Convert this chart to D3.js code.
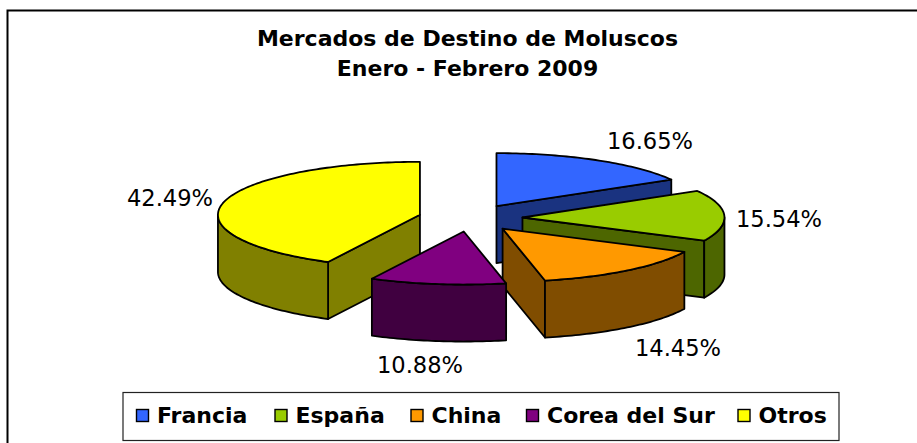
<!DOCTYPE html>
<html><head><meta charset="utf-8">
<script src="https://cdn.jsdelivr.net/npm/d3@7/dist/d3.min.js"></script>
<style>html,body{margin:0;padding:0;background:#fff}svg{display:block}text{font-family:"DejaVu Sans",Verdana,sans-serif;fill:#000}</style>
</head><body><svg id="c" width="917" height="443"></svg>
<script>
const categories = ["Francia","España","China","Corea del Sur","Otros"];
const values = [16.65,15.54,14.45,10.88,42.49];
const topColors = ["#3366FF","#99CC00","#FF9900","#800080","#FFFF00"];
const sideColors = ["#1A3380","#4D6600","#804D00","#400040","#808000"];
const labelSpots = [[650,141],[779,219],[678,348],[420,365],[170,198]];
const titleLines = ["Mercados de Destino de Moluscos","Enero - Febrero 2009"];
const drawOrder = [0,1,2,4,3];
const legendStart = [136,274.5,410.5,526,737.5];

const svg = d3.select("#c");
svg.append("path").attr("d","M7.5,443V10.5H917").attr("fill","none").attr("stroke","#000").attr("stroke-width",2);
svg.selectAll(".t").data(titleLines).join("text").attr("class","t").attr("x",467.5).attr("y",(d,i)=>46+i*30)
  .attr("text-anchor","middle").attr("font-weight","bold").attr("font-size",22).text(d=>d);

const cx=470.5, cy=218, rx=202, ry=53, depth=57, ex=52;
const arcs = d3.pie().sort(null)(values);
const px = (c,a)=>[c[0]+rx*Math.sin(a), c[1]-ry*Math.cos(a)];
function arcPts(c,a0,a1,dy=0){
  const n=Math.max(2,Math.ceil((a1-a0)/0.02)); const pts=[];
  d3.range(n+1).forEach(i=>{const a=a0+(a1-a0)*i/n; const p=px(c,a); pts.push([p[0],p[1]+dy]);});
  return pts;
}
const line=d3.line();
const PI=Math.PI;
drawOrder.forEach(i=>{
  const s=arcs[i], a0=s.startAngle, a1=s.endAngle, mid=(a0+a1)/2;
  const c=[cx+ex*Math.sin(mid), cy-ex*(ry/rx)*Math.cos(mid)];
  const g=svg.append("g");
  const wall=pts=>g.append("path").attr("d",line(pts)+"Z").attr("fill",sideColors[i]).attr("stroke","#000").attr("stroke-width",1.8).attr("stroke-linejoin","round");
  if(Math.sin(a0)<-1e-6){const p=px(c,a0); wall([c,p,[p[0],p[1]+depth],[c[0],c[1]+depth]]);}
  if(Math.sin(a1)>1e-6){const p=px(c,a1); wall([c,p,[p[0],p[1]+depth],[c[0],c[1]+depth]]);}
  const f0=Math.max(a0,PI/2), f1=Math.min(a1,3*PI/2);
  if(f1>f0){ wall(arcPts(c,f0,f1).concat(arcPts(c,f0,f1,depth).reverse())); }
  g.append("path").attr("d",line([c].concat(arcPts(c,a0,a1)))+"Z").attr("fill",topColors[i]).attr("stroke","#000").attr("stroke-width",1.8).attr("stroke-linejoin","round");
});
svg.selectAll(".l").data(values).join("text").attr("class","l")
  .attr("x",(d,i)=>labelSpots[i][0]).attr("y",(d,i)=>labelSpots[i][1]+8).attr("text-anchor","middle").attr("font-size",22.6)
  .text(d=>d.toFixed(2)+"%");

svg.append("rect").attr("x",123).attr("y",392.5).attr("width",716).attr("height",48).attr("fill","#fff").attr("stroke","#222").attr("stroke-width",1.2);
const lg=svg.selectAll(".lg").data(categories).join("g").attr("class","lg").attr("transform",(d,i)=>`translate(${legendStart[i]},0)`);
lg.append("rect").attr("x",0.5).attr("y",409.5).attr("width",12).attr("height",12).attr("fill",(d,i)=>topColors[i]).attr("stroke","#000").attr("stroke-width",1.4);
lg.append("text").attr("x",21).attr("y",423).attr("font-weight","bold").attr("font-size",22).text(d=>d);
</script></body></html>
